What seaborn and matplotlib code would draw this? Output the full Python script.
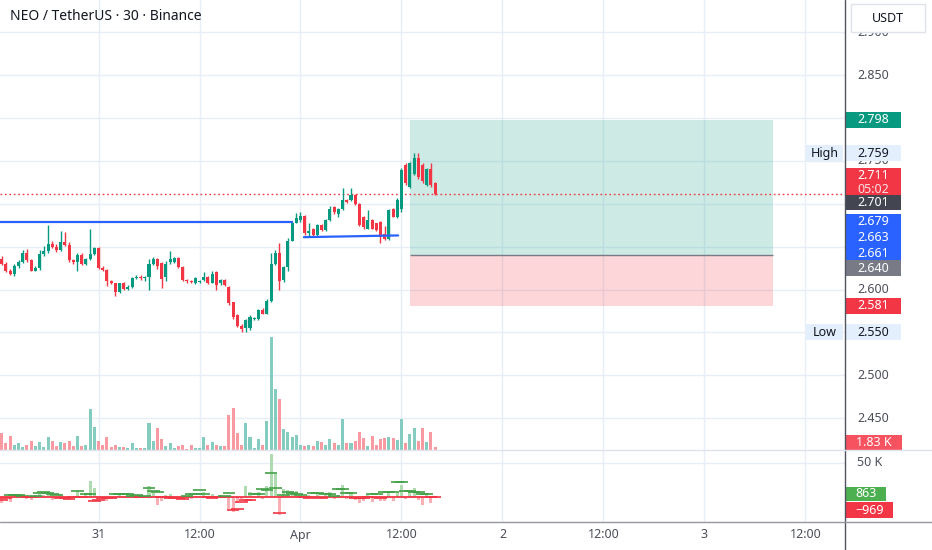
import matplotlib
matplotlib.use('Agg')
import matplotlib.pyplot as plt
import matplotlib.transforms as mtransforms
from matplotlib.lines import Line2D
from matplotlib.patches import Rectangle
import numpy as np
import pandas as pd
import seaborn as sns

# NEO/USDT, 30 min candles, first bar = Mar 30 12:30 (71 bars before Apr 1 00:00)
open_ = [2.636, 2.630, 2.622, 2.618, 2.627, 2.632, 2.643, 2.634, 2.622, 2.625,
         2.641, 2.645, 2.653, 2.650, 2.646, 2.655, 2.652, 2.634, 2.632, 2.640,
         2.630, 2.636, 2.641, 2.648, 2.625, 2.623, 2.610, 2.607, 2.597, 2.607,
         2.601, 2.603, 2.613, 2.615, 2.613, 2.614, 2.630, 2.636, 2.631, 2.615,
         2.632, 2.632, 2.637, 2.626, 2.611, 2.610, 2.607, 2.609, 2.611, 2.615,
         2.608, 2.620, 2.607, 2.611, 2.603, 2.585, 2.570, 2.558, 2.555, 2.555,
         2.566, 2.566, 2.576, 2.572, 2.587, 2.630, 2.642, 2.611, 2.626, 2.657,
         2.678, 2.681, 2.686, 2.666, 2.671, 2.663, 2.675, 2.669, 2.681, 2.696,
         2.688, 2.694, 2.704, 2.704, 2.710, 2.700, 2.685, 2.671, 2.681, 2.677,
         2.679, 2.665, 2.659, 2.694, 2.685, 2.694, 2.745, 2.720, 2.735, 2.753,
         2.745, 2.722, 2.741, 2.724]
high = [2.639, 2.632, 2.624, 2.630, 2.634, 2.646, 2.647, 2.636, 2.627, 2.646,
        2.651, 2.675, 2.656, 2.653, 2.668, 2.667, 2.655, 2.636, 2.642, 2.642,
        2.637, 2.671, 2.650, 2.650, 2.627, 2.624, 2.611, 2.608, 2.608, 2.609,
        2.605, 2.614, 2.617, 2.617, 2.616, 2.636, 2.638, 2.637, 2.632, 2.633,
        2.645, 2.638, 2.638, 2.627, 2.612, 2.611, 2.615, 2.611, 2.620, 2.616,
        2.622, 2.621, 2.612, 2.612, 2.604, 2.586, 2.571, 2.560, 2.566, 2.570,
        2.568, 2.577, 2.578, 2.589, 2.642, 2.646, 2.654, 2.627, 2.660, 2.680,
        2.689, 2.690, 2.687, 2.677, 2.672, 2.676, 2.676, 2.682, 2.697, 2.697,
        2.695, 2.718, 2.706, 2.718, 2.711, 2.701, 2.686, 2.693, 2.682, 2.678,
        2.680, 2.674, 2.694, 2.695, 2.707, 2.742, 2.747, 2.749, 2.759, 2.759,
        2.747, 2.742, 2.747, 2.725]
low = [2.628, 2.620, 2.617, 2.616, 2.625, 2.631, 2.632, 2.621, 2.621, 2.623,
       2.639, 2.643, 2.648, 2.644, 2.645, 2.651, 2.632, 2.630, 2.622, 2.628,
       2.628, 2.634, 2.640, 2.624, 2.621, 2.604, 2.606, 2.593, 2.596, 2.600,
       2.600, 2.602, 2.612, 2.611, 2.610, 2.599, 2.628, 2.624, 2.602, 2.610,
       2.630, 2.631, 2.625, 2.610, 2.608, 2.607, 2.606, 2.607, 2.610, 2.606,
       2.607, 2.599, 2.605, 2.604, 2.582, 2.566, 2.556, 2.550, 2.551, 2.553,
       2.564, 2.565, 2.571, 2.571, 2.585, 2.628, 2.599, 2.609, 2.622, 2.656,
       2.677, 2.679, 2.664, 2.662, 2.661, 2.662, 2.668, 2.668, 2.680, 2.688,
       2.684, 2.693, 2.701, 2.703, 2.699, 2.674, 2.671, 2.670, 2.670, 2.668,
       2.654, 2.658, 2.658, 2.684, 2.683, 2.690, 2.722, 2.718, 2.733, 2.729,
       2.724, 2.721, 2.720, 2.710]
close = [2.630, 2.622, 2.618, 2.627, 2.632, 2.643, 2.634, 2.622, 2.625, 2.641,
         2.645, 2.653, 2.650, 2.646, 2.655, 2.652, 2.634, 2.632, 2.640, 2.630,
         2.636, 2.641, 2.648, 2.625, 2.623, 2.610, 2.607, 2.597, 2.607, 2.601,
         2.603, 2.613, 2.615, 2.613, 2.614, 2.630, 2.636, 2.627, 2.612, 2.630,
         2.635, 2.637, 2.626, 2.611, 2.610, 2.609, 2.613, 2.610, 2.615, 2.607,
         2.618, 2.605, 2.611, 2.605, 2.584, 2.568, 2.558, 2.554, 2.564, 2.568,
         2.566, 2.576, 2.572, 2.587, 2.630, 2.642, 2.610, 2.626, 2.657, 2.678,
         2.683, 2.686, 2.666, 2.668, 2.663, 2.675, 2.669, 2.681, 2.694, 2.690,
         2.694, 2.704, 2.702, 2.710, 2.700, 2.675, 2.673, 2.681, 2.671, 2.669,
         2.661, 2.659, 2.693, 2.685, 2.704, 2.739, 2.724, 2.747, 2.753, 2.731,
         2.726, 2.741, 2.722, 2.711]
# volume in thousands of NEO
volume_k = [9.5, 4, 7.5, 2.8, 4, 1.5, 3, 5, 2.4, 4.2,
            1.5, 7, 5, 2, 4.2, 4, 5, 2.4, 7.9, 2.2,
            2.6, 22.7, 12.8, 4.8, 2.6, 7, 1.5, 3, 1.5, 1.5,
            1, 3.7, 1, 1, 1, 15, 5, 12.3, 5.9, 2.4,
            3.7, 1, 2.2, 3, 0.6, 3, 1, 1, 7.3, 2.8,
            4.2, 3, 2.4, 2.4, 19, 23, 9.2, 3, 15, 7.3,
            1, 5.9, 3, 16, 62, 33.6, 27.9, 11.4, 10, 7,
            8, 2.8, 2.4, 2.6, 2.2, 5, 4.2, 2.8, 6, 3.7,
            2.8, 17, 4, 3.7, 5, 10, 6.4, 2.2, 7.7, 3,
            6, 6.4, 7.3, 6.4, 5.5, 17, 4, 8.6, 12.3, 5,
            12.3, 4.2, 9.7, 1.83]
# lower pane: delta markers in thousands
delta_k = [-5, -2, 2.5, 2.5, 2, 1, -1, -1, 1, 5.5,
           7, 5, 3, 2, -2, -2, -3.5, -1, 8, -1,
           4, 3, -6, -5, -2, -2, -1.5, 3, 3, 4,
           4, 1, 2, -0.5, 1, 12.5, 8, 6, -1, -1,
           -1.5, -1.5, -2, -3, 1, 3.5, 3, 9.5, 4, -1,
           -1.5, -1, -0.5, 1, 4.5, -20, -19, -7.5, -5, -5,
           3.5, 3, 11, 10, 35, 12, -24, 2, 6.5, 5,
           3, 2, -1, -1.5, 4.5, 4.5, -2, 3.5, 3.5, 1,
           11.5, 11.5, 4.5, 4.5, -2, -2.5, -2, -1, 3, 3,
           -2, 6.5, 7, 7, 21, 21, 8.5, 8.5, 6, 6,
           4, 3.5, -1, -1]

first_bar = -71  # bars relative to Apr 1 00:00
time_ticks = [-48, -24, 0, 24, 48, 72, 96, 120]
time_labels = ['31', '12:00', 'Apr', '12:00', '2', '12:00', '3', '12:00']
day_labels = ['31', 'Apr', '2', '3']
price_ticks = [2.45, 2.50, 2.55, 2.60, 2.65, 2.70, 2.75, 2.80, 2.85, 2.90]
# scale labels that TradingView hides behind price tags
hidden_ticks = [2.65, 2.70, 2.80]

last_price = 2.711
prev_close = 2.701
level_line = 2.679
level_end = -1.8
trend_x = [0.8, 23.2]
trend_y = [2.661, 2.663]
entry, take_profit, stop_loss = 2.640, 2.798, 2.581
pos_x = [26, 112.3]
day_high, day_low = 2.759, 2.550

GREEN = '#089981'
RED = '#f23645'
BLUE = '#2962ff'
GRID = '#e8eef5'
TEXT = '#131722'
AXIS_TEXT = '#4c4f5a'
TAG_BG = '#e3effd'

# layout in pixels
W, H = 932, 550
PLOT_R = 845
MAIN_B = 450
IND_B = 522
X0 = 300.5
BAR_PX = 4.208
PX_PER_PRICE = 858
VOL_TOP_PX = 113
IND_PX_PER_K = 0.68
IND_ZERO_PX = 46.5

sns.set_theme(style='white')
plt.rcParams['font.family'] = ['Noto Sans', 'DejaVu Sans']

fig = plt.figure(figsize=(W / 100, H / 100), dpi=100)
fig.patch.set_facecolor('white')
ax = fig.add_axes([0, 1 - MAIN_B / H, PLOT_R / W, MAIN_B / H])
ax_vol = ax.twinx()
ax_ind = fig.add_axes([0, 1 - IND_B / H, PLOT_R / W, (IND_B - MAIN_B) / H], sharex=ax)

t = np.arange(first_bar, first_bar + len(close))
o, h, l, c = (np.array(v) for v in (open_, high, low, close))
up = c >= o
colors = np.where(up, GREEN, RED)
vol = np.array(volume_k)
df = pd.DataFrame({'t': t, 'vol': vol, 'side': np.where(up, 'up', 'down'),
                   'signed': np.where(up, vol, -vol)})

# grid
for tt in time_ticks:
    ax.axvline(tt, color=GRID, lw=1, zorder=0)
    ax_ind.axvline(tt, color=GRID, lw=1, zorder=0)
for p in price_ticks:
    ax.axhline(p, color=GRID, lw=1, zorder=0)
ax_ind.axhline(50, color=GRID, lw=1, zorder=0)

# long position tool
ax.add_patch(Rectangle((pos_x[0], entry), pos_x[1] - pos_x[0], take_profit - entry,
                       fc=GREEN, alpha=0.2, lw=0, zorder=1))
ax.add_patch(Rectangle((pos_x[0], stop_loss), pos_x[1] - pos_x[0], entry - stop_loss,
                       fc=RED, alpha=0.2, lw=0, zorder=1))
ax.hlines(entry, pos_x[0], pos_x[1], color='#787b86', lw=1, zorder=2)

# candles
ax.vlines(t, l, h, colors=colors, lw=1, zorder=3)
ax.bar(t, np.maximum(np.abs(c - o), 0.0012), bottom=np.minimum(o, c), width=0.72,
       color=colors, lw=0, zorder=4)

# drawings
xlim = (-X0 / BAR_PX, (PLOT_R - X0) / BAR_PX)
ax.hlines(level_line, xlim[0] - 5, level_end, color=BLUE, lw=1.6, zorder=5)
ax.plot(trend_x, trend_y, color=BLUE, lw=1.6, zorder=5)
ax.axhline(last_price, color=RED, lw=1, ls=(0, (1.2, 2)), zorder=2)

# volume
sns.barplot(data=df, x='t', y='vol', hue='side', palette={'up': '#84ccc0', 'down': '#f99aa2'},
            native_scale=True, width=0.72, dodge=False, errorbar=None, legend=False,
            saturation=1, linewidth=0, ax=ax_vol)

# lower indicator pane
sns.barplot(data=df, x='t', y='signed', hue='side', palette={'up': '#aedcb0', 'down': '#f8b0b5'},
            native_scale=True, width=0.72, dodge=False, errorbar=None, legend=False,
            saturation=1, linewidth=0, ax=ax_ind)
ax_ind.hlines(0, t[0] - 0.5, t[-1] + 0.5, color=RED, lw=1.3, zorder=3)
d = np.array(delta_k)
ax_ind.hlines(d, t - 1.5, t + 1.5, colors=np.where(d >= 0, '#43a047', RED), lw=1.2, zorder=4)

ax.set_xlim(xlim)
ax.set_ylim(2.850 - (MAIN_B - 75) / PX_PER_PRICE, 2.850 + 75 / PX_PER_PRICE)
ax_vol.set_ylim(0, vol.max() * MAIN_B / VOL_TOP_PX)
ax_ind.set_ylim(-(IND_B - MAIN_B - IND_ZERO_PX) / IND_PX_PER_K, IND_ZERO_PX / IND_PX_PER_K)
for a in (ax, ax_vol, ax_ind):
    a.set_axis_off()

# frame lines
fig.add_artist(Line2D([PLOT_R / W] * 2, [0, 1], color='#50535e', lw=1, transform=fig.transFigure))
fig.add_artist(Line2D([0, 1], [1 - IND_B / H] * 2, color='#9598a1', lw=1, transform=fig.transFigure))
fig.add_artist(Line2D([0, 1], [1 - MAIN_B / H] * 2, color='#e0e3eb', lw=1, transform=fig.transFigure))

# price scale
trans_main = mtransforms.blended_transform_factory(fig.transFigure, ax.transData)
for p in price_ticks:
    if p in hidden_ticks:
        continue
    ax.text(857 / W, p, f'{p:.3f}', transform=trans_main, va='center', ha='left',
            fontsize=9, color=AXIS_TEXT, clip_on=False, zorder=5)


def tag(axis, value, lines, face, fg='white', x0=846, x1=901, h=16, dy=0, weight='bold'):
    trans = mtransforms.blended_transform_factory(fig.transFigure, axis.transData)
    y0, y1 = axis.transData.transform([(0, 0), (0, 1)])[:, 1]
    per_px = 1 / (y1 - y0)
    cy = value - dy * per_px
    top = cy + h / 2 * per_px
    axis.add_patch(Rectangle((x0 / W, top - h * len(lines) * per_px), (x1 - x0) / W,
                             h * len(lines) * per_px, transform=trans, fc=face, ec='none',
                             clip_on=False, zorder=10))
    fgs = fg if isinstance(fg, list) else [fg] * len(lines)
    for k, (txt, col) in enumerate(zip(lines, fgs)):
        axis.text((x0 + x1) / 2 / W, cy - k * h * per_px, txt, transform=trans, ha='center',
                  va='center', color=col, fontsize=9, fontweight=weight, clip_on=False, zorder=11)


tag(ax, take_profit, [f'{take_profit:.3f}'], GREEN)
tag(ax, day_high, [f'{day_high:.3f}'], TAG_BG, fg=TEXT)
tag(ax, day_high, ['High'], TAG_BG, fg=TEXT, x0=806, x1=843)
tag(ax, last_price, [f'{last_price:.3f}', '05:02'], RED, fg=['white', '#fde0e3'], h=14, dy=-19)
tag(ax, prev_close, [f'{prev_close:.3f}'], '#434651', h=15)
tag(ax, level_line, [f'{level_line:.3f}', f'{trend_y[1]:.3f}', f'{trend_y[0]:.3f}'], BLUE)
tag(ax, entry, [f'{entry:.3f}'], '#787b86', dy=13)
tag(ax, stop_loss, [f'{stop_loss:.3f}'], RED)
tag(ax, day_low, [f'{day_low:.3f}'], TAG_BG, fg=TEXT)
tag(ax, day_low, ['Low'], TAG_BG, fg=TEXT, x0=806, x1=843)
tag(ax_vol, volume_k[-1], [f'{volume_k[-1]:.2f} K'], '#f7525f', x1=902, h=15, dy=-4)
tag(ax_ind, 0.863, ['863'], '#4caf50', x1=886, h=14, dy=-2)
tag(ax_ind, -0.969, ['\u2212969'], RED, x1=893, h=16, dy=13)
ax_ind.text(857 / W, 50, '50 K', transform=mtransforms.blended_transform_factory(fig.transFigure, ax_ind.transData),
            va='center', ha='left', fontsize=9, color=AXIS_TEXT, clip_on=False)

# currency box
fig.add_artist(Rectangle((851 / W, 1 - 32 / H), 74 / W, 28 / H, transform=fig.transFigure,
                         fc='white', ec='#e0e3eb', lw=1, zorder=20))
fig.text(888 / W, 1 - 18 / H, 'USDT', ha='center', va='center', fontsize=9, color=TEXT, zorder=21)

# time scale
trans_time = mtransforms.blended_transform_factory(ax_ind.transData, fig.transFigure)
for tt, lab in zip(time_ticks, time_labels):
    ax_ind.text(tt, 1 - 535 / H, lab, transform=trans_time, ha='center', va='center', fontsize=9,
                color=AXIS_TEXT, fontweight='bold' if lab in day_labels else 'normal', clip_on=False)

fig.text(10 / W, 1 - 16 / H, 'NEO / TetherUS \u00b7 30 \u00b7 Binance', ha='left', va='center',
         fontsize=10, color=TEXT)

fig.savefig('out.png', dpi=100, facecolor='white')
